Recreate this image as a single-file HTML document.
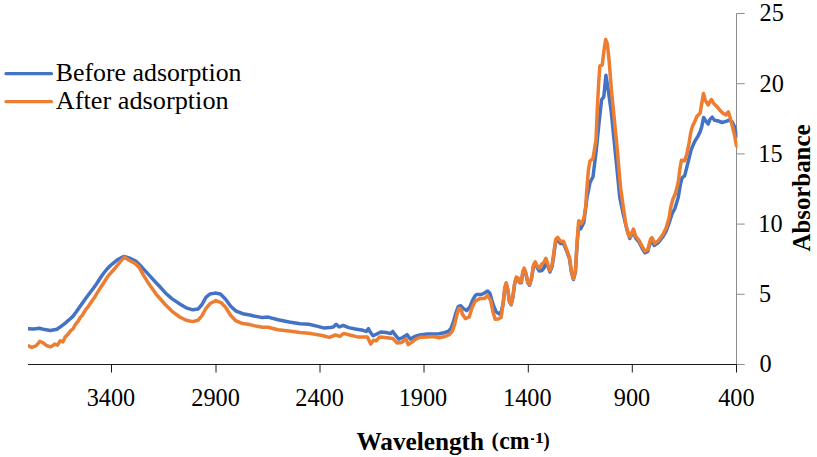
<!DOCTYPE html>
<html><head><meta charset="utf-8"><style>
html,body{margin:0;padding:0;background:#fff;width:817px;height:457px;overflow:hidden;font-family:"Liberation Serif",serif;}
svg{display:block;}
</style></head><body>
<svg width="817" height="457" viewBox="0 0 817 457">
<rect x="0" y="0" width="817" height="457" fill="#fff"/>
<line x1="736.5" y1="13.5" x2="736.5" y2="364.5" stroke="#8c8c8c" stroke-width="1"/>
<line x1="736.5" y1="364.5" x2="744.7" y2="364.5" stroke="#8c8c8c" stroke-width="1"/>
<line x1="736.5" y1="294.3" x2="744.7" y2="294.3" stroke="#8c8c8c" stroke-width="1"/>
<line x1="736.5" y1="224.1" x2="744.7" y2="224.1" stroke="#8c8c8c" stroke-width="1"/>
<line x1="736.5" y1="153.9" x2="744.7" y2="153.9" stroke="#8c8c8c" stroke-width="1"/>
<line x1="736.5" y1="83.7" x2="744.7" y2="83.7" stroke="#8c8c8c" stroke-width="1"/>
<line x1="736.5" y1="13.5" x2="744.7" y2="13.5" stroke="#8c8c8c" stroke-width="1"/>
<clipPath id="c"><rect x="28.0" y="0" width="709.5" height="400"/></clipPath>
<g clip-path="url(#c)" fill="none" stroke-width="3.5" stroke-linejoin="round" stroke-linecap="round">
<path d="M28.2 328.7 L33.8 328.9 L39.3 328.2 L44.8 329.6 L50.3 330.4 L56.9 329.3 L61.0 326.4 L64.0 324.2 L67.0 321.6 L70.0 319.0 L73.1 316.1 L76.0 312.2 L79.1 307.7 L82.1 303.5 L85.1 299.3 L89.2 293.8 L93.0 288.8 L96.3 284.2 L100.0 278.5 L103.4 273.5 L106.6 269.5 L110.5 265.5 L113.1 263.3 L117.7 259.5 L124.1 256.4 L130.5 258.5 L136.2 261.4 L141.8 267.1 L148.9 274.9 L156.1 282.7 L160.0 286.8 L165.2 292.7 L171.8 298.6 L179.7 303.9 L186.2 307.8 L192.8 309.8 L198.0 309.1 L202.0 304.5 L205.9 297.3 L209.9 294.0 L215.1 293.1 L220.4 294.0 L225.6 299.3 L230.9 306.5 L236.1 311.1 L242.7 313.7 L249.9 315.0 L253.8 316.0 L262.6 317.6 L268.1 317.1 L278.0 319.8 L289.1 322.0 L300.1 323.7 L308.9 324.2 L317.7 326.4 L324.3 328.1 L330.0 327.6 L333.3 327.0 L336.1 324.3 L339.4 327.0 L343.2 325.4 L348.7 327.6 L355.3 329.0 L363.0 330.3 L366.3 331.4 L368.5 328.7 L370.2 332.0 L373.0 335.8 L376.3 334.2 L380.7 332.0 L386.2 332.5 L390.6 333.6 L392.8 331.4 L395.0 334.7 L398.8 339.1 L402.7 337.5 L407.1 334.7 L410.4 339.1 L414.8 336.4 L419.8 335.0 L427.0 334.1 L433.0 334.1 L439.1 333.7 L445.1 332.5 L448.7 331.1 L451.1 328.1 L453.5 321.5 L455.9 313.0 L458.3 306.4 L460.7 305.8 L463.7 308.8 L466.7 310.6 L469.8 307.0 L472.8 299.8 L475.2 295.6 L476.8 294.5 L481.4 294.5 L484.5 293.0 L487.6 291.0 L489.9 293.3 L492.9 304.0 L496.0 311.7 L499.0 313.9 L501.3 311.7 L503.2 303.5 L504.8 288.8 L506.2 283.8 L507.8 290.2 L509.4 301.6 L511.1 304.8 L512.7 298.4 L514.7 283.8 L516.3 278.0 L518.0 278.7 L519.6 282.8 L521.3 282.8 L522.9 272.2 L524.2 269.0 L525.9 273.8 L527.8 282.8 L529.5 285.2 L531.5 278.7 L533.6 265.8 L535.2 263.5 L537.4 268.0 L539.3 271.0 L541.8 270.5 L543.9 268.0 L545.9 263.0 L547.9 266.5 L550.0 272.0 L552.1 266.5 L553.5 257.0 L555.7 241.5 L557.6 240.0 L560.6 243.5 L563.5 243.5 L566.5 250.5 L569.4 258.5 L571.4 272.0 L573.4 279.5 L575.4 272.0 L577.3 241.0 L578.7 226.0 L580.7 228.8 L583.8 222.7 L586.9 198.2 L589.9 182.8 L593.0 176.7 L596.1 151.7 L599.2 121.2 L601.6 99.8 L603.8 96.7 L605.9 75.3 L608.3 90.6 L611.3 112.0 L613.7 136.5 L616.8 167.0 L619.8 197.6 L622.8 212.0 L626.3 227.0 L629.8 238.5 L632.1 234.0 L633.5 231.0 L635.6 238.0 L639.2 242.5 L642.0 248.0 L644.9 252.8 L647.7 251.5 L650.6 241.5 L652.0 240.0 L654.1 245.5 L658.4 242.5 L662.7 237.0 L666.2 231.0 L669.1 223.0 L672.0 214.0 L674.9 208.5 L678.2 197.5 L680.4 184.4 L682.1 177.8 L684.7 175.6 L686.9 166.9 L689.1 158.1 L691.3 149.4 L694.6 141.7 L697.9 136.3 L700.1 131.9 L701.8 126.4 L703.6 117.5 L705.8 120.9 L708.1 124.1 L709.9 119.5 L712.2 117.2 L714.5 120.2 L718.3 121.0 L722.2 122.5 L726.0 121.4 L729.1 120.2 L732.1 121.8 L734.7 127.0 L736.5 134.5 L737.5 136.0" stroke="#4472C4"/>
<path d="M28.3 345.8 L31.6 347.4 L36.0 345.8 L39.9 341.4 L42.6 342.5 L47.0 345.8 L50.9 346.9 L54.7 344.1 L57.5 345.2 L60.2 340.8 L63.0 341.9 L65.2 337.0 L68.5 333.7 L70.7 330.5 L72.0 329.8 L73.1 328.8 L74.8 325.5 L76.7 322.8 L78.2 321.2 L80.3 317.3 L82.0 315.8 L83.9 312.5 L86.3 308.9 L87.8 307.2 L89.9 304.1 L94.8 296.9 L100.8 287.2 L104.4 281.8 L108.4 275.6 L114.8 268.5 L120.5 261.4 L124.5 257.1 L129.0 260.2 L134.7 263.1 L139.0 267.1 L143.3 274.9 L149.0 284.1 L156.1 294.1 L160.0 298.5 L165.2 304.5 L171.8 311.1 L179.7 317.0 L186.2 320.3 L192.8 321.6 L198.0 320.3 L202.0 315.7 L205.9 308.5 L210.5 303.2 L215.8 300.6 L221.0 302.6 L225.6 307.2 L230.9 315.7 L236.1 320.9 L242.7 323.6 L249.9 324.6 L253.8 325.6 L262.6 327.3 L268.1 327.3 L278.0 329.7 L289.1 331.1 L300.1 332.5 L311.1 333.6 L322.1 335.5 L329.3 337.4 L335.5 335.0 L339.9 336.4 L343.8 333.4 L348.7 334.7 L357.5 336.9 L367.4 336.9 L370.7 344.1 L373.5 340.2 L376.3 340.8 L379.6 336.9 L385.1 337.5 L392.8 338.6 L397.2 343.0 L401.6 342.4 L406.0 339.1 L408.2 344.6 L411.5 342.4 L415.9 339.1 L419.8 337.2 L427.0 337.1 L433.0 336.5 L439.1 337.7 L445.1 336.5 L449.3 334.7 L452.3 331.1 L454.7 323.9 L457.1 314.3 L458.9 308.2 L461.3 310.0 L462.3 314.0 L465.4 318.6 L469.2 317.0 L472.3 307.0 L475.3 301.0 L479.9 298.6 L484.5 298.6 L487.6 295.6 L490.6 300.2 L492.9 311.7 L495.2 319.3 L498.3 319.0 L501.2 317.3 L503.2 302.5 L504.8 287.8 L506.2 282.8 L507.8 289.4 L509.4 300.9 L511.1 304.2 L512.7 297.6 L514.7 282.8 L516.3 277.1 L518.0 277.9 L519.6 282.0 L521.3 282.0 L522.9 271.3 L524.2 268.1 L525.9 273.0 L527.8 282.0 L529.5 284.5 L531.5 277.9 L533.6 264.8 L535.2 261.8 L537.4 266.4 L539.3 268.1 L541.8 264.0 L543.9 262.3 L545.9 258.2 L547.9 264.8 L550.0 270.5 L552.1 264.8 L553.5 255.0 L555.7 239.4 L557.6 237.4 L560.6 241.3 L563.5 241.3 L566.5 249.2 L569.4 257.1 L571.4 270.9 L573.4 278.7 L575.4 270.9 L577.3 239.4 L578.7 220.7 L581.3 223.6 L583.8 218.7 L585.8 205.9 L586.6 192.0 L588.4 170.5 L589.9 161.3 L593.0 158.3 L596.0 139.9 L597.3 108.8 L598.7 82.5 L599.9 65.9 L602.2 65.0 L603.9 51.0 L605.7 39.6 L607.4 44.0 L609.2 61.5 L611.4 90.0 L614.5 121.0 L617.5 152.0 L620.6 188.0 L623.6 209.2 L625.7 223.4 L627.8 233.4 L630.0 237.0 L632.1 232.0 L633.5 229.1 L635.6 236.2 L639.2 240.5 L642.0 246.2 L644.9 251.2 L647.7 249.8 L650.6 239.1 L652.0 237.7 L654.8 243.4 L658.4 240.5 L662.7 234.8 L666.2 227.7 L669.1 217.8 L670.5 208.5 L672.7 199.7 L675.5 193.2 L678.2 182.2 L679.9 169.1 L681.4 160.3 L684.7 160.8 L686.9 153.8 L689.1 142.8 L690.9 131.9 L692.4 126.4 L694.6 122.0 L696.8 116.6 L700.1 113.3 L701.5 104.9 L703.5 93.4 L705.3 100.3 L708.1 104.9 L711.4 99.5 L713.7 103.4 L716.8 106.4 L719.9 110.3 L722.9 113.3 L726.0 114.9 L728.3 111.8 L730.1 117.2 L732.1 125.6 L734.4 134.5 L736.3 145.0 L737.5 147.0" stroke="#ED7D31"/>
</g>
<line x1="28.0" y1="364.5" x2="736.5" y2="364.5" stroke="#1a1a1a" stroke-width="1"/>
<line x1="111.5" y1="364.5" x2="111.5" y2="372.5" stroke="#1a1a1a" stroke-width="1"/>
<line x1="216.0" y1="364.5" x2="216.0" y2="372.5" stroke="#1a1a1a" stroke-width="1"/>
<line x1="320.0" y1="364.5" x2="320.0" y2="372.5" stroke="#1a1a1a" stroke-width="1"/>
<line x1="424.0" y1="364.5" x2="424.0" y2="372.5" stroke="#1a1a1a" stroke-width="1"/>
<line x1="528.3" y1="364.5" x2="528.3" y2="372.5" stroke="#1a1a1a" stroke-width="1"/>
<line x1="632.3" y1="364.5" x2="632.3" y2="372.5" stroke="#1a1a1a" stroke-width="1"/>
<line x1="736.5" y1="364.5" x2="736.5" y2="372.5" stroke="#1a1a1a" stroke-width="1"/>
<g font-family="Liberation Serif" fill="#000">
<text transform="translate(86.70,406.40) scale(0.9750,1)" font-size="24.90">3400</text>
<text transform="translate(191.32,406.40) scale(0.9750,1)" font-size="24.90">2900</text>
<text transform="translate(295.32,406.40) scale(0.9750,1)" font-size="24.90">2400</text>
<text transform="translate(398.72,406.40) scale(0.9750,1)" font-size="24.90">1900</text>
<text transform="translate(503.02,406.40) scale(0.9750,1)" font-size="24.90">1400</text>
<text transform="translate(613.81,406.40) scale(0.9750,1)" font-size="24.90">900</text>
<text transform="translate(718.13,406.40) scale(0.9750,1)" font-size="24.90">400</text>
<text transform="translate(759.53,372.34) scale(0.9750,1)" font-size="24.90">0</text>
<text transform="translate(759.04,302.27) scale(0.9750,1)" font-size="24.90">5</text>
<text transform="translate(758.32,232.07) scale(0.9750,1)" font-size="24.90">10</text>
<text transform="translate(758.32,161.99) scale(0.9750,1)" font-size="24.90">15</text>
<text transform="translate(759.53,91.54) scale(0.9750,1)" font-size="24.90">20</text>
<text transform="translate(759.53,21.47) scale(0.9750,1)" font-size="24.90">25</text>
<text transform="translate(356.45,449.73) scale(1.0055,1)" font-size="25.11" font-weight="bold">Wavelength</text>
<text transform="translate(491.54,447.24) scale(0.8685,0.8557)" font-size="24.80" font-weight="bold">(</text>
<text transform="translate(543.55,447.24) scale(0.7444,0.8557)" font-size="24.80" font-weight="bold">)</text>
<text transform="translate(499.19,449.30) scale(0.9586,1)" font-size="24.68" font-weight="bold">cm</text>
<rect x="531" y="438.3" width="3.2" height="1.7" fill="#000"/>
<text transform="translate(534.63,442.50) scale(1.2252,1)" font-size="15.00" font-weight="bold">1</text>
<text transform="translate(809.5,251.55) rotate(-90) scale(1.0231,1)" font-size="24.30" font-weight="bold">Absorbance</text>
<line x1="6" y1="73.7" x2="51.5" y2="73.7" stroke="#4472C4" stroke-width="3.2" stroke-linecap="round"/>
<line x1="6" y1="101.7" x2="51.5" y2="101.7" stroke="#ED7D31" stroke-width="3.2" stroke-linecap="round"/>
<text transform="translate(55.83,81.10) scale(1.0631,1)" font-size="24.30">Before adsorption</text>
<text transform="translate(55.84,108.70) scale(1.0809,1)" font-size="24.30">After adsorption</text>
</g>
</svg>
</body></html>
